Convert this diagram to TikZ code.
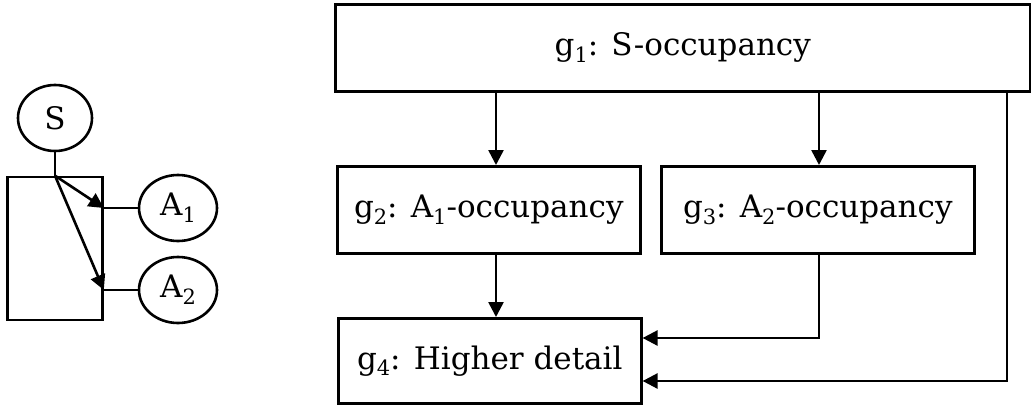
\documentclass[tikz,border=0pt]{standalone}
\usepackage{fontspec}
\setmainfont{DejaVu Serif}
\usetikzlibrary{arrows.meta,shapes.geometric}

% subscript digit, set a little larger than \textsubscript
\newcommand\lowidx[1]{\raisebox{-0.22em}{\fontsize{21}{21}\selectfont #1}}

\tikzset{
  line/.style={line width=2.6pt, line cap=rect},
  arr/.style={line width=2.6pt, -{Triangle[length=15pt,width=15pt]}},
  blk/.style={draw, line width=2.6pt, rectangle, inner sep=0pt, anchor=north west,
              font=\fontsize{31}{36}\selectfont},
  var/.style={draw, line width=2.6pt, ellipse, inner sep=0pt,
              font=\fontsize{31}{36}\selectfont},
}

\begin{document}
\begin{tikzpicture}[x=1pt,y=-1pt]
  \useasboundingbox (0,0) rectangle (1031,405);

  % plate model on the left
  \node[var, minimum width=74pt, minimum height=66pt] (S) at (55,118) {S};
  \node[draw, line width=2.6pt, inner sep=0pt, minimum width=95pt, minimum height=143pt]
       (plate) at (55,248.5) {};
  \node[var, minimum width=78pt, minimum height=66pt] (A1) at (178,208) {A\lowidx{1}};
  \node[var, minimum width=78pt, minimum height=66pt] (A2) at (178,290) {A\lowidx{2}};

  \coordinate (top) at (S.south |- plate.north);
  \coordinate (e1) at (plate.east |- A1.center);
  \coordinate (e2) at (plate.east |- A2.center);

  \draw[line] (S.south) -- (top);
  \draw[arr] (top) -- (e1);
  \draw[arr] (top) -- (e2);
  \draw[line] (e1) -- (A1.west);
  \draw[line] (e2) -- (A2.west);

  % factor blocks on the right
  \node[blk, minimum width=695pt, minimum height=87pt] (g1) at (334,3)
       {g\lowidx{1}: S-occupancy};
  \node[blk, minimum width=303pt, minimum height=87pt] (g2) at (336,165)
       {g\lowidx{2}: A\lowidx{1}-occupancy};
  \node[blk, minimum width=313pt, minimum height=87pt] (g3) at (660,165)
       {g\lowidx{3}: A\lowidx{2}-occupancy};
  \node[blk, minimum width=303pt, minimum height=85pt] (g4) at (337,317)
       {g\lowidx{4}: Higher detail};

  \draw[arr] (g1.south -| 496,0) -- (g2.north -| 496,0);
  \draw[arr] (g1.south -| 819,0) -- (g3.north -| 819,0);
  \draw[arr] (g2.south -| 496,0) -- (g4.north -| 496,0);
  \draw[arr] (g3.south -| 819,0) -- (819,338) -- (g4.east |- 0,338);
  \draw[arr] (g1.south -| 1007,0) -- (1007,381) -- (g4.east |- 0,381);
\end{tikzpicture}
\end{document}
